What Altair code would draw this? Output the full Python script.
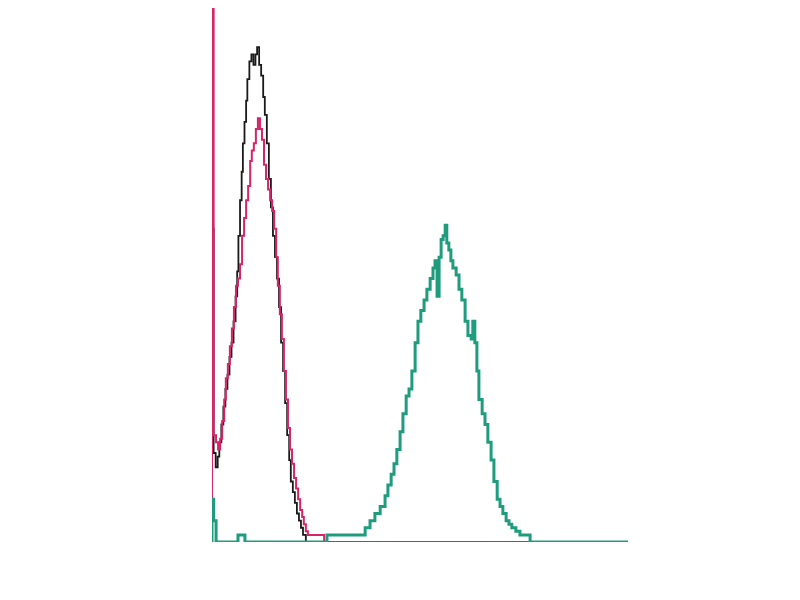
import altair as alt
import pandas as pd

# FACS-style histogram: channel numbers (256 channels per decade, 0..1024) and counts
black_ch = [0, 0, 4, 9, 14, 18, 23, 28, 33, 38, 43, 48, 53, 58, 62, 65, 69, 73, 76, 80, 84,
            87, 92, 97, 102, 107, 111, 116, 121, 126, 130, 135, 140, 145, 150, 155, 160, 165,
            170, 175, 180, 185, 190, 194, 199, 204, 209, 214, 219, 224, 231, 1024]
black_counts = [0, 44, 12.5, 10.5, 12, 14, 16.5, 19, 21.5, 23.5, 26, 28, 31, 34.5, 38, 43, 48,
                52, 56, 59, 62, 65, 67.5, 68.5, 67, 68.5, 69.5, 67, 65.5, 62.5, 60, 56, 51, 47,
                43, 40, 37, 33, 28, 24, 19.5, 15, 11.5, 8.5, 7, 5.5, 4, 3, 2, 1, 0, 0]

pink_ch = [0, 0, 4, 10, 15, 20, 25, 30, 34, 39, 44, 49, 54, 59, 64, 69, 74, 79, 84, 89, 94,
           98, 103, 108, 113, 118, 123, 128, 133, 138, 143, 148, 153, 158, 162, 167, 172, 177,
           182, 187, 192, 197, 202, 207, 212, 217, 222, 226, 231, 236, 276, 1024]
pink_counts = [0, 90, 15, 14, 13, 14.5, 17, 20, 23, 25, 27.5, 30, 33, 36, 37, 39, 43, 45.5, 48,
               50, 53.5, 55, 56, 58, 59.5, 58, 56.5, 53, 51, 49.5, 48, 46.5, 44, 40, 36, 32,
               28.5, 24, 20, 16, 13, 11, 9, 7.5, 6, 4.5, 3.5, 2.5, 1.5, 1, 0, 0]

green_ch = [0, 0, 4, 10, 64, 81, 283, 377, 389, 401, 414, 426, 433, 441, 448, 455, 463, 470,
            478, 485, 492, 500, 507, 514, 522, 529, 537, 544, 549, 554, 559, 564, 569, 574,
            578, 583, 588, 593, 601, 608, 615, 623, 630, 638, 642, 647, 652, 657, 665, 672,
            679, 687, 694, 702, 709, 716, 724, 731, 738, 748, 758, 783, 1024]
green_counts = [0, 6, 3, 0, 1, 0, 1, 2, 3, 4, 5, 6.5, 8, 9.5, 11, 13, 15.5, 18, 20.5, 21.5, 24,
                28, 31, 32.5, 34, 35.5, 37, 38.5, 39.5, 34.5, 40, 42.5, 43, 44.5, 42, 41, 39.5,
                38.5, 37.5, 35.5, 34, 31, 29, 28.5, 31, 28, 24, 20, 18, 16.5, 14, 11.5, 8.5, 6,
                5, 4, 3, 2.5, 2, 1.5, 1, 0, 0]

x_tick_values = [m * 10 ** d for d in range(4) for m in range(1, 10)] + [10000]
y_tick_values = list(range(0, 76, 2))


def frame(ch, counts):
    return pd.DataFrame({
        "idx": list(range(len(ch))),
        "FL1": [10 ** (c / 256) for c in ch],
        "Counts": counts,
    })


FONT = "Liberation Sans"
x_scale = alt.Scale(type="log", domain=[1, 10000], nice=False)
y_scale = alt.Scale(domain=[0, 75], nice=False)

x_axis = alt.Axis(
    values=x_tick_values,
    labelExpr="datum.value == 1 ? '10⁰' : datum.value == 10 ? '10¹' : datum.value == 100 ? '10²' : datum.value == 1000 ? '10³' : datum.value == 10000 ? '10⁴' : ''",
    tickSize=5, tickColor="#111111", tickWidth=1.6,
    domainColor="#111111", domainWidth=2.2,
    gridOpacity=0,
    labelFont=FONT, labelFontSize=17, labelColor="#111111", labelPadding=3,
    title="FL1-H", titleFont=FONT, titleFontSize=15, titleFontWeight="bold",
    titleColor="#111111", titleBaseline="middle", titleY=40,
)
y_axis = alt.Axis(
    values=y_tick_values,
    labelExpr="datum.value % 10 === 0 ? datum.label : ''",
    ticks=True, domain=True, tickSize=6, tickColor="#111111", tickWidth=1.6,
    domainColor="#111111", domainWidth=2.2,
    labelFont=FONT, labelFontSize=15, labelColor="#111111",
    labelAngle=270, labelAlign="center", labelBaseline="bottom", labelPadding=8,
    labelFlush=False, labelOverlap=False, grid=False, zindex=1,
    title="Counts", titleFont=FONT, titleFontSize=14, titleFontWeight="normal",
    titleColor="#111111", titleAngle=270, titleAlign="center", titleBaseline="middle",
    titleX=-47, titleY=272,
)


def layer(df, color, width, with_axes):
    return alt.Chart(df).mark_line(
        interpolate="step-after", color=color, strokeWidth=width, clip=True
    ).encode(
        x=alt.X("FL1:Q", scale=x_scale, axis=x_axis if with_axes else None),
        y=alt.Y("Counts:Q", scale=y_scale, axis=y_axis if with_axes else None),
        order=alt.Order("idx:Q"),
    )


chart = alt.layer(
    layer(frame(black_ch, black_counts), "#1a1a1a", 1.8, True),
    layer(frame(pink_ch, pink_counts), "#d62468", 2.0, False),
    layer(frame(green_ch, green_counts), "#1f9c7e", 3.0, False),
).properties(
    width=416,
    height=534,
    autosize=alt.AutoSizeParams(type="none"),
    padding={"left": 204, "top": 0, "right": 40, "bottom": 50},
    background="white",
).configure_view(stroke=None)

chart.save("out.html", embed_options={"renderer": "svg", "actions": False})
